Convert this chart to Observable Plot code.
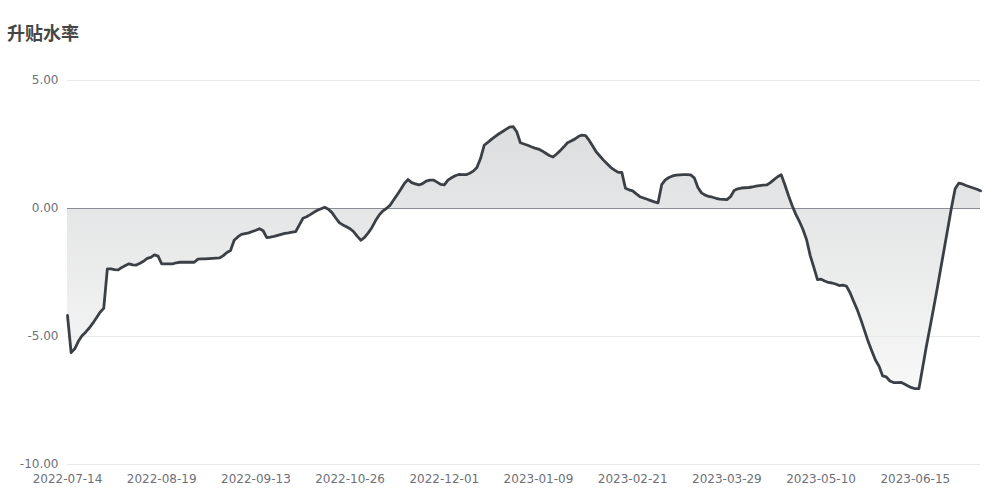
<!DOCTYPE html>
<html>
<head>
<meta charset="utf-8">
<script src="https://cdn.jsdelivr.net/npm/d3@7"></script>
<script src="https://cdn.jsdelivr.net/npm/@observablehq/plot@0.6"></script>
<style>
  html, body { margin: 0; padding: 0; background: #ffffff; }
  #wrap { position: relative; width: 1000px; height: 500px; padding-top: 60px; box-sizing: border-box; }
  #title { position: absolute; left: 7px; top: 23px; font: bold 18px/18px "Noto Sans CJK SC", sans-serif; color: #464646; }
</style>
</head>
<body>
<div id="wrap">
  <div id="title">升贴水率</div>
  <div id="chart"></div>
</div>
<script>
// X-axis tick labels (category axis, one label every 26 trading days)
const tickLabels = ["2022-07-14", "2022-08-19", "2022-09-13", "2022-10-26", "2022-12-01",
                    "2023-01-09", "2023-02-21", "2023-03-29", "2023-05-10", "2023-06-15"];
const labelEvery = 26;

// Y-axis ticks
const yTicks = [5, 0, -5, -10];

// 升贴水率 series, one value per trading day
const basisRate = [
  -4.18, -5.63, -5.48, -5.19, -4.97, -4.83, -4.67, -4.48, -4.27, -4.05,
  -3.90, -2.36, -2.36, -2.39, -2.40, -2.30, -2.23, -2.16, -2.20, -2.21,
  -2.14, -2.06, -1.95, -1.91, -1.81, -1.86, -2.16, -2.16, -2.16, -2.16,
  -2.12, -2.10, -2.10, -2.10, -2.10, -2.10, -1.98, -1.97, -1.97, -1.96,
  -1.95, -1.94, -1.93, -1.84, -1.72, -1.64, -1.24, -1.11, -1.01, -0.98,
  -0.95, -0.90, -0.85, -0.79, -0.87, -1.14, -1.12, -1.09, -1.05, -1.01,
  -0.97, -0.95, -0.92, -0.90, -0.64, -0.38, -0.32, -0.24, -0.15, -0.07,
  -0.01, 0.05, -0.03, -0.16, -0.36, -0.55, -0.64, -0.71, -0.79, -0.91,
  -1.09, -1.24, -1.13, -0.95, -0.75, -0.48, -0.26, -0.10, 0.00, 0.12,
  0.33, 0.54, 0.75, 0.98, 1.13, 1.01, 0.96, 0.92, 0.97, 1.07,
  1.11, 1.11, 1.03, 0.94, 0.92, 1.11, 1.20, 1.28, 1.33, 1.32,
  1.32, 1.38, 1.46, 1.60, 1.95, 2.47, 2.58, 2.70, 2.81, 2.91,
  3.00, 3.09, 3.18, 3.20, 3.00, 2.57, 2.52, 2.47, 2.41, 2.36,
  2.32, 2.25, 2.16, 2.07, 2.01, 2.13, 2.26, 2.41, 2.57, 2.64,
  2.71, 2.81, 2.87, 2.85, 2.66, 2.43, 2.20, 2.04, 1.88, 1.74,
  1.60, 1.50, 1.41, 1.41, 0.79, 0.73, 0.69, 0.57, 0.46, 0.41,
  0.36, 0.31, 0.26, 0.22, 0.93, 1.12, 1.21, 1.27, 1.30, 1.31,
  1.32, 1.32, 1.31, 1.20, 0.82, 0.61, 0.52, 0.47, 0.44, 0.40,
  0.37, 0.36, 0.35, 0.46, 0.70, 0.77, 0.80, 0.81, 0.82, 0.84,
  0.87, 0.89, 0.91, 0.92, 1.01, 1.13, 1.24, 1.32, 0.93, 0.51,
  0.12, -0.22, -0.50, -0.82, -1.22, -1.84, -2.30, -2.78, -2.76, -2.83,
  -2.89, -2.91, -2.95, -3.01, -2.99, -3.03, -3.29, -3.63, -3.96, -4.35,
  -4.77, -5.20, -5.57, -5.92, -6.16, -6.54, -6.58, -6.74, -6.80, -6.80,
  -6.79, -6.86, -6.93, -7.00, -7.04, -7.04, -6.24, -5.43, -4.69, -3.94,
  -3.16, -2.36, -1.56, -0.76, 0.05, 0.77, 0.99, 0.96, 0.90, 0.85,
  0.80, 0.75, 0.69
];

const data = basisRate.map((v, i) => ({i, v}));
const tickIdx = tickLabels.map((_, k) => k * labelEvery);

const chart = Plot.plot({
  width: 1000,
  height: 440,
  marginTop: 20,
  marginBottom: 36,
  marginLeft: 67,
  marginRight: 20,
  style: {fontSize: "12px", fontFamily: "'DejaVu Sans', sans-serif", color: "#6e7079", background: "#ffffff"},
  x: {type: "linear", domain: [0, basisRate.length - 1], ticks: tickIdx,
      tickFormat: (d) => tickLabels[tickIdx.indexOf(d)] ?? "", tickSize: 0, tickPadding: 10, label: null},
  y: {domain: [-10, 5], ticks: yTicks, tickFormat: (d) => d.toFixed(2), tickSize: 0, tickPadding: 9, label: null},
  marks: [
    Plot.areaY(data, {x: "i", y1: 0, y2: "v", fill: "url(#basisGrad)"}),
    Plot.ruleY(yTicks.filter((t) => t !== 0), {stroke: "#e6e8ec", strokeWidth: 1}),
    Plot.ruleY([0], {stroke: "#8a8d93", strokeWidth: 1}),
    Plot.lineY(data, {x: "i", y: "v", stroke: "#3b4046", strokeWidth: 2.8, strokeLinejoin: "round", strokeLinecap: "round"})
  ]
});

// gradient definition for the area fill (top of plot -> bottom)
const ns = "http://www.w3.org/2000/svg";
const defs = document.createElementNS(ns, "defs");
const grad = document.createElementNS(ns, "linearGradient");
grad.setAttribute("id", "basisGrad");
grad.setAttribute("gradientUnits", "userSpaceOnUse");
grad.setAttribute("x1", "0"); grad.setAttribute("x2", "0");
grad.setAttribute("y1", "20"); grad.setAttribute("y2", "404");
[[0, 0.2], [1, 0]].forEach(([o, a]) => {
  const s = document.createElementNS(ns, "stop");
  s.setAttribute("offset", o);
  s.setAttribute("stop-color", "#3b4046");
  s.setAttribute("stop-opacity", a);
  grad.appendChild(s);
});
defs.appendChild(grad);
chart.insertBefore(defs, chart.firstChild);

document.getElementById("chart").appendChild(chart);
</script>
</body>
</html>
